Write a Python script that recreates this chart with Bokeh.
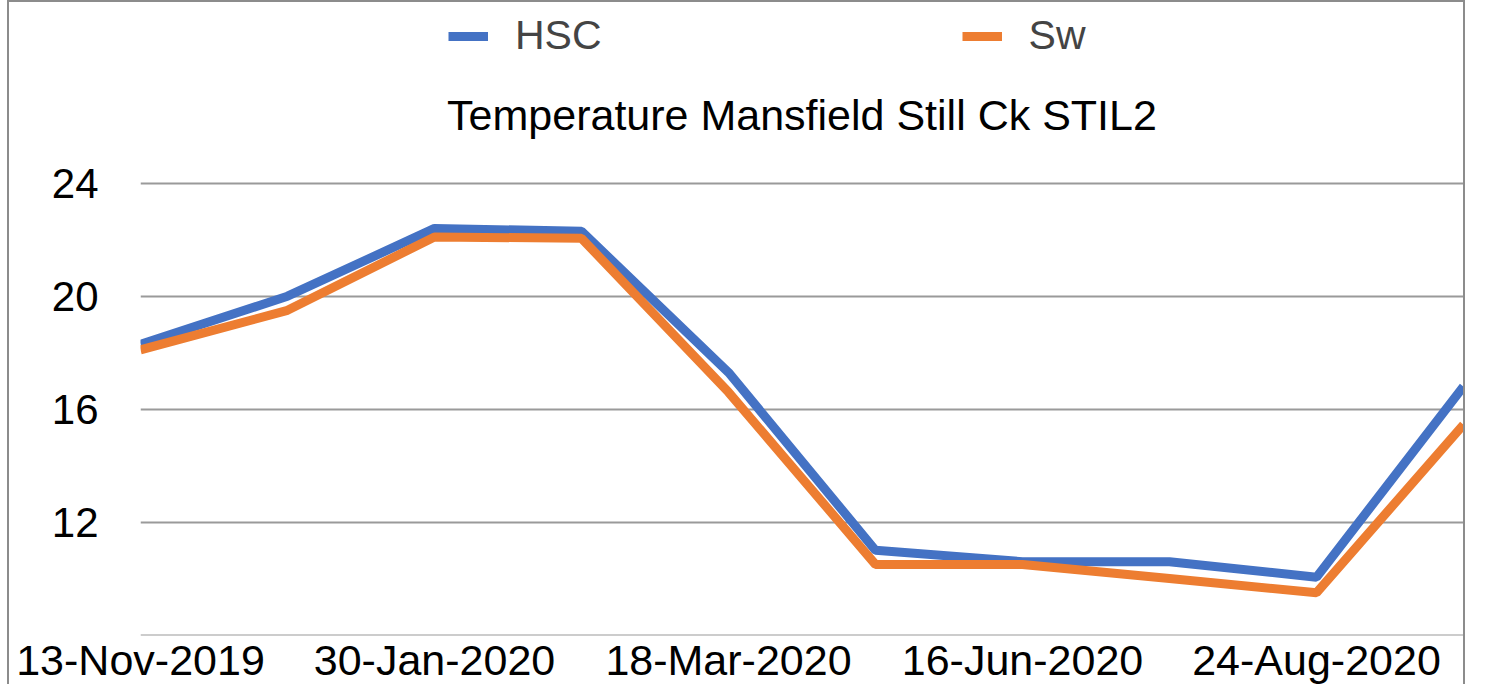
from bokeh.plotting import figure
from bokeh.models import Range1d, FixedTicker, Legend, LegendItem, Label
from bokeh.embed import file_html
from bokeh.resources import INLINE

# ---- data ----
sample_pos = [0, 1, 2, 3, 4, 5, 6, 7, 8, 9]
hsc = [18.3, 20.0, 22.4, 22.3, 17.3, 11.0, 10.6, 10.6, 10.05, 16.8]
sw = [18.1, 19.5, 22.1, 22.05, 16.6, 10.5, 10.5, 10.0, 9.5, 15.45]
tick_pos = [0, 2, 4, 6, 8]
tick_labels = ["13-Nov-2019", "30-Jan-2020", "18-Mar-2020", "16-Jun-2020", "24-Aug-2020"]
y_ticks = [8, 12, 16, 20, 24]
y_labels = ["", "12", "16", "20", "24"]
title_text = "Temperature Mansfield Still Ck STIL2"

FONT = "Liberation Sans"
BLUE = "#4472C4"
ORANGE = "#ED7D31"

p = figure(width=1458, height=684, output_backend="svg", toolbar_location=None,
           x_range=Range1d(0, 9), y_range=Range1d(7.985, 30.33),
           min_border_left=131, min_border_right=4, min_border_top=2, min_border_bottom=10)
p.styles = {"border-left": "2px solid #8c8c8c", "border-top": "2px solid #8c8c8c",
            "border-right": "2px solid #8c8c8c", "position": "relative", "left": "7px"}
p.outline_line_color = None
p.background_fill_color = "white"
p.border_fill_color = "white"

r1 = p.line(sample_pos, hsc, line_color=BLUE, line_width=9)
r2 = p.line(sample_pos, sw, line_color=ORANGE, line_width=9)

# axes
p.xaxis.ticker = FixedTicker(ticks=tick_pos)
p.xaxis.major_label_overrides = {t: l for t, l in zip(tick_pos, tick_labels)}
p.yaxis.ticker = FixedTicker(ticks=y_ticks)
p.yaxis.major_label_overrides = {t: l for t, l in zip(y_ticks, y_labels)}
for ax in (p.xaxis[0], p.yaxis[0]):
    ax.axis_line_color = None
    ax.major_tick_line_color = None
    ax.minor_tick_line_color = None
    ax.major_tick_out = 0
    ax.major_tick_in = 0
    ax.minor_tick_out = 0
    ax.minor_tick_in = 0
    ax.major_label_text_font = FONT
    ax.major_label_text_color = "black"
p.xaxis.major_label_text_font_size = "43px"
p.yaxis.major_label_text_font_size = "42px"
p.xaxis.major_label_standoff = 0
p.yaxis.major_label_standoff = 42

p.xgrid.grid_line_color = None
p.ygrid.ticker = FixedTicker(ticks=y_ticks)
p.ygrid.grid_line_color = "#9a9a9a"
p.ygrid.grid_line_width = 2

# title (inside the plot area, above the 24 gridline)
p.add_layout(Label(x=4.5, y=26.42, text=title_text,
                   text_font=FONT, text_font_size="43px", text_align="center",
                   text_baseline="middle", text_color="black"))

# legend
legend = Legend(items=[LegendItem(label="HSC", renderers=[r1]),
                       LegendItem(label="Sw", renderers=[r2])],
                location=(308, 576), orientation="horizontal",
                label_text_font=FONT, label_text_font_size="41px",
                glyph_width=40, glyph_height=40, label_standoff=27, spacing=360,
                padding=0, margin=0, border_line_color=None, background_fill_alpha=0)
p.add_layout(legend, "center")

open("out.html", "w").write(file_html(p, INLINE))
